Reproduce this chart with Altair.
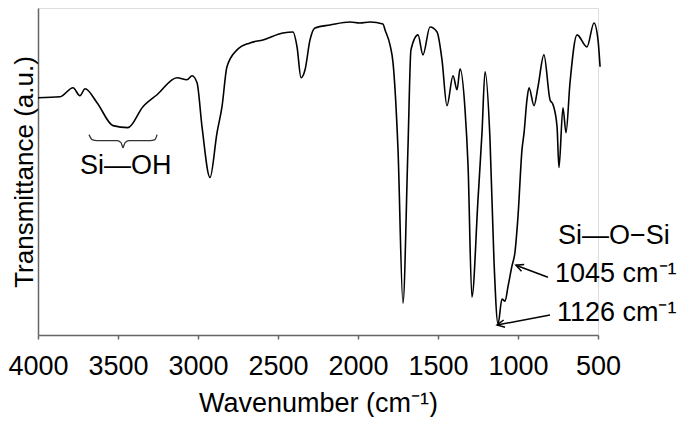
import altair as alt
import pandas as pd

FONT = "Liberation Sans"

# FTIR spectrum (wavenumber in cm-1, transmittance in arbitrary units)
wavenumber = [4000, 3862, 3781, 3738, 3706, 3631, 3531, 3438, 3344, 3256, 3131, 3069, 3037, 3006,
              2975, 2925, 2881, 2850, 2819, 2756, 2675, 2594, 2469, 2406, 2381, 2356, 2331, 2300,
              2269, 2175, 2050, 1988, 1925, 1844, 1831, 1800, 1781, 1750, 1719, 1688, 1669, 1625,
              1594, 1550, 1506, 1475, 1444, 1406, 1381, 1362, 1331, 1312, 1288, 1250, 1225, 1206,
              1175, 1150, 1125, 1100, 1081, 1062, 1038, 1019, 1000, 975, 962, 944, 931, 900,
              875, 838, 800, 781, 756, 744, 719, 700, 675, 631, 569, 525, 500, 487]
transmittance = [238, 239, 248, 240, 247, 233, 210, 208, 229, 241, 258, 256, 260, 253,
                 209, 158, 203, 229, 269, 286, 293, 296, 303, 304, 289, 258, 266, 296,
                 308, 311, 314, 313, 314, 312, 306, 291, 273, 186, 32, 186, 286, 301,
                 281, 309, 304, 276, 230, 260, 246, 267, 226, 169, 38, 136, 203, 264,
                 196, 74, 11, 36, 34, 49, 69, 83, 119, 186, 203, 236, 248, 230,
                 249, 281, 236, 231, 209, 168, 228, 203, 253, 301, 289, 313, 296, 269]

# curly brace under the Si-OH band
brace_wn = [3681, 3662, 3631, 3506, 3481, 3469, 3456, 3431, 3300, 3269, 3256]
brace_t = [201, 196, 195, 195, 193, 188, 193, 195, 195, 196, 201]

# annotation texts
label_text = ["Si\u2014OH", "Si\u2014O\u2212Si", "1045 cm\u207b\u00b9", "1126 cm\u207b\u00b9"]
label_wn = [3738, 750, 769, 757]
label_t = [161, 91, 53, 14]

# arrows (tail -> tip)
arrow_tail_wn = [813, 800]
arrow_tail_t = [58, 20]
arrow_tip_wn = [1013, 1131]
arrow_tip_t = [70, 10]
arrow_angle = [291, 259]

x_ticks = [4000, 3500, 3000, 2500, 2000, 1500, 1000, 500]

spec_df = pd.DataFrame({"wn": wavenumber, "t": transmittance})
brace_df = pd.DataFrame({"wn": brace_wn, "t": brace_t})
label_df = pd.DataFrame({"txt": label_text, "wn": label_wn, "t": label_t})
arrow_df = pd.DataFrame({"wn": arrow_tail_wn, "t": arrow_tail_t,
                         "wn2": arrow_tip_wn, "t2": arrow_tip_t, "ang": arrow_angle})

xscale = alt.Scale(domain=[500, 4000], reverse=True, nice=False, zero=False)
yscale = alt.Scale(domain=[0, 328], nice=False, zero=False)

x_axis = alt.Axis(values=x_ticks, format="d", grid=False, tickSize=4, tickColor="#666666",
                  domainColor="#666666", domainWidth=1.5, tickWidth=1.5,
                  labelFont=FONT, labelFontSize=27, labelColor="black", labelPadding=14,
                  labelFlush=False,
                  title="Wavenumber (cm\u207b\u00b9)", titleFont=FONT, titleFontSize=27,
                  titleFontWeight="normal", titleColor="black", titlePadding=11)
y_axis = alt.Axis(ticks=False, labels=False, grid=False, domainColor="#666666", domainWidth=1.5,
                  title="Transmittance (a.u.)", titleFont=FONT, titleFontSize=26,
                  titleFontWeight="normal", titleColor="black", titlePadding=1)

spectrum = alt.Chart(spec_df).mark_line(color="black", strokeWidth=1.6, interpolate="monotone").encode(
    x=alt.X("wn:Q", scale=xscale, axis=x_axis),
    y=alt.Y("t:Q", scale=yscale, axis=y_axis),
)

brace = alt.Chart(brace_df).mark_line(color="#333333", strokeWidth=1.3, interpolate="monotone").encode(
    x=alt.X("wn:Q", scale=xscale),
    y=alt.Y("t:Q", scale=yscale),
)

texts = alt.Chart(label_df).mark_text(align="left", baseline="alphabetic", font=FONT,
                                      fontSize=27, color="black").encode(
    x=alt.X("wn:Q", scale=xscale),
    y=alt.Y("t:Q", scale=yscale),
    text="txt:N",
)

arrow_lines = alt.Chart(arrow_df).mark_rule(color="black", strokeWidth=1.5).encode(
    x=alt.X("wn:Q", scale=xscale),
    y=alt.Y("t:Q", scale=yscale),
    x2="wn2:Q",
    y2="t2:Q",
)

arrow_heads = alt.Chart(arrow_df).mark_point(shape="M -0.5 1 L 0 0 L 0.5 1", filled=False,
                                             size=220, strokeWidth=1.5, color="black",
                                             opacity=1).encode(
    x=alt.X("wn2:Q", scale=xscale),
    y=alt.Y("t2:Q", scale=yscale),
    angle=alt.Angle("ang:Q", scale=None),
)

chart = alt.layer(spectrum, brace, arrow_lines, arrow_heads, texts).properties(
    width=560,
    height=327,
    autosize=alt.AutoSizeParams(type="none"),
    padding={"left": 30, "top": 0, "right": 79, "bottom": 82},
).configure_view(stroke=None).configure(font=FONT)

chart.save("out.html", embed_options={"renderer": "svg", "actions": False})
